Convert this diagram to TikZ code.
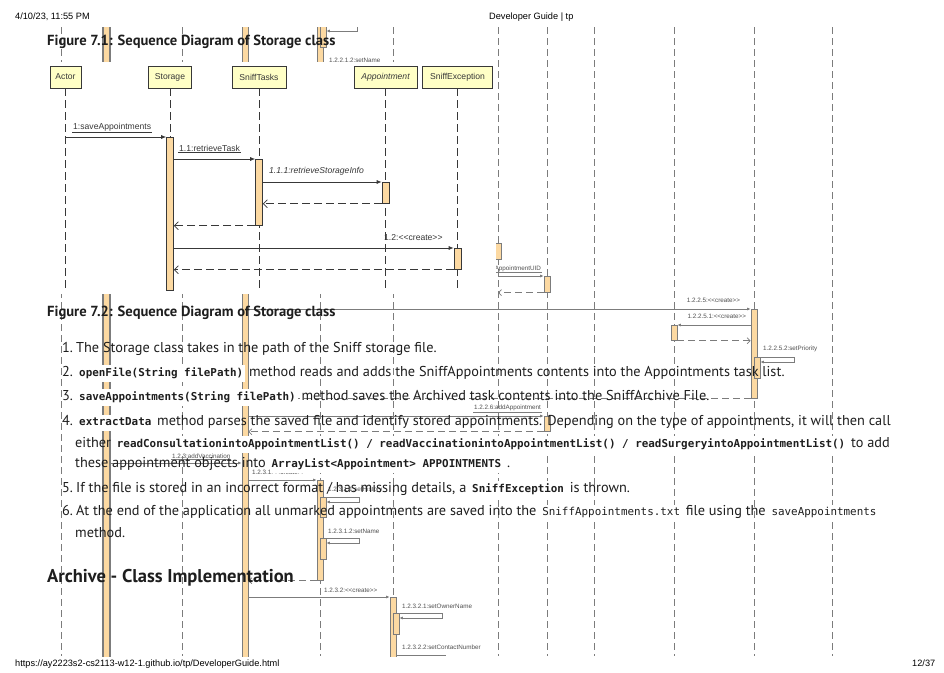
\documentclass[tikz,border=0pt]{standalone}
\usepackage{fontspec}
\setmainfont{PT Sans}
\newfontfamily\diafont{Liberation Sans}
\newfontfamily\mymono{DejaVu Sans Mono}
\usetikzlibrary{arrows.meta,calc}
\definecolor{actfill}{HTML}{FCD9A2}
\definecolor{boxfill}{HTML}{FFFFC6}
\definecolor{ovl}{HTML}{7C7C7C}
\definecolor{ovtext}{HTML}{505050}
\definecolor{dline}{HTML}{383838}
\definecolor{txt}{HTML}{1E1E1E}
\newcommand\cbx[1]{{\setlength\fboxsep{2pt}\colorbox{white}{\mymono\bfseries\fontsize{10.9}{12}\selectfont\strut #1}}}
\newcommand\cbr[1]{{\setlength\fboxsep{2pt}\colorbox{white}{\mymono\fontsize{10.9}{12}\selectfont\strut #1}}}
\newcommand\bodyfont{\fontsize{14.3}{16}\selectfont}
\newcommand\headfont{\bfseries\fontsize{14.6}{17}\selectfont}
\begin{document}
\begin{tikzpicture}[x=1pt,y=-1pt,
  objbox/.style={draw=dline, fill=boxfill, line width=0.8pt, minimum height=22pt, inner sep=0pt, font=\diafont\fontsize{8.6}{10}\selectfont, text=dline},
  lifeln/.style={draw=dline, dash pattern=on 8pt off 4pt, line width=0.8pt},
  actbar/.style={draw=dline, fill=actfill, minimum width=7pt, inner sep=0pt, anchor=north, line width=0.7pt},
  callmsg/.style={draw=dline, line width=0.7pt, -{Latex[length=5pt,width=4pt]}},
  retmsg/.style={draw=dline, line width=0.7pt, dash pattern=on 8pt off 4pt, -{Straight Barb[length=4pt,width=8pt]}},
  mlbl/.style={font=\diafont\fontsize{8.6}{10}\selectfont, text=dline, inner sep=1pt, anchor=west},
  ovlife/.style={draw=ovl, dash pattern=on 7pt off 4pt, line width=0.9pt},
  ovbar/.style={draw=ovl, fill=actfill, minimum width=6pt, inner sep=0pt, anchor=north, line width=0.7pt},
  ovcall/.style={draw=ovl, line width=0.7pt, -{Latex[length=3.5pt,width=3pt]}},
  ovret/.style={draw=ovl, line width=0.7pt, dash pattern=on 7pt off 4pt, -{Straight Barb[length=3pt,width=6pt]}},
  ovlbl/.style={font=\diafont\fontsize{6.3}{7}\selectfont, text=ovtext, inner sep=0.8pt},
  ovul/.style={draw=ovl, line width=0.6pt},
  body/.style={anchor=base west, inner sep=0pt, text=txt, font=\bodyfont},
  head/.style={anchor=base west, inner sep=0pt, text=txt, font=\headfont},
  pghead/.style={font=\diafont\fontsize{9.2}{10}\selectfont, inner sep=0pt, anchor=base west, text=black}
]
\useasboundingbox (0,0) rectangle (944,672);
\fill[white] (0,0) rectangle (944,672);

% ---------- overlaid diagram (Figure 7.2, printed underneath) ----------
\begin{scope}
\clip (0,27) rectangle (944,656);
\foreach \x/\n in {61/a,182/b,320/c,393/d,498/e,547/f,594/g,674/h,754/i,832/j}{
  \coordinate (ot\n) at (\x,27);
  \coordinate (ob\n) at (\x,656);
  \draw[ovlife] (ot\n) -- (ob\n);
}
\node[ovbar, minimum width=7pt, minimum height=640pt, line width=1.1pt] (oA) at (106.5,20) {};
\node[ovbar, minimum height=640pt] (oB) at (245,20) {};
% top fragment
\node[ovbar, minimum height=42pt] (oc0) at (320,20) {};
\node[ovbar, minimum height=27pt] (oc1) at (323,20) {};
\coordinate (sc0) at (357,20);
\draw[ovcall] (sc0) |- (oc1.east |- 0,31);
\node[ovlbl, anchor=west] at (328,60.5) {1.2.2.1.2:setName};
% appointment UID
\node[ovbar, minimum height=16pt] (oe1) at (498,243) {};
\node[ovlbl, anchor=east] (lUID) at (542,268.5) {1.2.2.4:setAppointmentUID};
\draw[ovul] (lUID.south west) -- (lUID.south east);
\node[ovbar, minimum height=16pt] (of1) at (547,276) {};
\draw[ovcall] (ote |- of1.north) -- (of1.north west);
\draw[ovret] (of1.south west) -- (ote |- of1.south);
% 1.2.2.5 create
\node[ovbar, minimum height=89pt] (oi1) at (754,309) {};
\draw[ovcall] (oB.east |- oi1.north) -- (oi1.north west);
\node[ovlbl, anchor=east] at (741,300) {1.2.2.5:<{}<create>{}>};
\node[ovbar, minimum height=15pt] (oh1) at (674,325) {};
\draw[ovcall] (oi1.west |- oh1.north) -- (oh1.north east);
\node[ovlbl, anchor=east] at (747,316) {1.2.2.5.1:<{}<create>{}>};
\draw[ovret] (oh1.south east) -- (oi1.west |- oh1.south);
\node[ovbar, minimum height=21pt] (oi2) at (757,357) {};
\draw[ovcall] (oi2.north east) -- ++(34,0) |- ($(oi2.north east)+(0,5)$);
\node[ovlbl, anchor=west] at (762,349) {1.2.2.5.2:setPriority};
\draw[ovret] (oi1.south west) -- (oB.east |- oi1.south);
% 1.2.2.6 addAppointment
\node[ovlbl, anchor=east] (lAdd) at (542,408) {1.2.2.6:addAppointment};
\draw[ovul] (lAdd.south west) -- (lAdd.south east);
\node[ovbar, minimum height=15pt] (of2) at (547,416) {};
\draw[ovcall] (oB.east |- of2.north) -- (of2.north west);
\draw[ovret] (of2.south west) -- (oB.east |- of2.south);
% 1.2.3 addVaccination
\node[ovlbl, anchor=west] (lVac) at (171,456) {1.2.3:addVaccination};
\draw[ovul] (lVac.south west) -- (lVac.south east);
\coordinate (m123) at (0,463);
\draw[ovcall] (oA.east |- m123) -- (oB.west |- m123);
\node[ovlbl, anchor=west] at (251,472) {1.2.3.1:<{}<create>{}>};
\node[ovbar, minimum height=100pt] (oc2) at (320,480) {};
\draw[ovcall] (oB.east |- oc2.north) -- (oc2.north west);
\node[ovlbl, anchor=west] at (327,490) {1.2.3.1.1:setHistory};
\node[ovbar, minimum height=20pt] (oc3) at (323,497) {};
\draw[ovcall] (oc3.north east) -- ++(33,0) |- ($(oc3.north east)+(0,5)$);
\node[ovlbl, anchor=west] at (327,531) {1.2.3.1.2:setName};
\node[ovbar, minimum height=21pt] (oc4) at (323,538) {};
\draw[ovcall] (oc4.north east) -- ++(33,0) |- ($(oc4.north east)+(0,5)$);
\draw[ovret] (oc2.south west) -- (oB.east |- oc2.south);
\node[ovlbl, anchor=west] at (323,590) {1.2.3.2:<{}<create>{}>};
\node[ovbar, minimum height=70pt] (od1) at (393,597) {};
\draw[ovcall] (oB.east |- od1.north) -- (od1.north west);
\node[ovlbl, anchor=west] at (401,606) {1.2.3.2.1:setOwnerName};
\node[ovbar, minimum height=21pt] (od2) at (396,613) {};
\draw[ovcall] (od2.north east) -- ++(43,0) |- ($(od2.north east)+(0,5)$);
\node[ovlbl, anchor=west] at (401,647) {1.2.3.2.2:setContactNumber};
\draw[ovl, line width=0.7pt] (od1.east |- 0,655) -- ++(50,0);
\end{scope}

% ---------- Figure 7.1 image ----------
\fill[white] (44,62) rectangle (496,294);
\node[objbox, minimum width=31pt] (actor) at (65.5,77) {Actor};
\node[objbox, minimum width=43pt] (storage) at (170,77) {Storage};
\node[objbox, minimum width=54pt] (tasks) at (259,77) {SniffTasks};
\node[objbox, minimum width=63pt, font=\diafont\itshape\fontsize{8.6}{10}\selectfont] (appt) at (385.5,77) {Appointment};
\node[objbox, minimum width=70pt] (sexc) at (457.5,77) {SniffException};
\coordinate (dbot) at (0,290);
\foreach \n in {actor,storage,tasks,appt,sexc}{
  \draw[lifeln] (\n.south) -- (\n.south |- dbot);
}
\node[actbar, minimum height=153pt] (aSt) at (170,137) {};
\node[actbar, minimum height=66pt] (aTk) at (259,159) {};
\node[actbar, minimum height=21pt] (aAp) at (385.5,182) {};
\node[actbar, minimum height=21pt] (aEx) at (457.5,248) {};
\draw[callmsg] (actor.south |- aSt.north) -- (aSt.north west);
\node[mlbl] (l1) at (72,127) {1:saveAppointments};
\draw[dline, line width=0.6pt] (l1.south west) -- (l1.south east);
\draw[callmsg] (aSt.east |- aTk.north) -- (aTk.north west);
\node[mlbl] (l2) at (178,148) {1.1:retrieveTask};
\draw[dline, line width=0.6pt] (l2.south west) -- (l2.south east);
\draw[callmsg] (aTk.east |- aAp.north) -- (aAp.north west);
\node[mlbl, font=\diafont\itshape\fontsize{8.6}{10}\selectfont] at (268,171) {1.1.1:retrieveStorageInfo};
\draw[retmsg] (aAp.south west) -- (aTk.east |- aAp.south);
\draw[retmsg] (aTk.south west) -- (aSt.east |- aTk.south);
\draw[callmsg] (aSt.east |- aEx.north) -- (aEx.north west);
\node[mlbl] at (383,238) {1.2:<{}<create>{}>};
\draw[retmsg] (aEx.south west) -- (aSt.east |- aEx.south);

% ---------- page text ----------
\node[pghead] at (15,19) {4/10/23, 11:55 PM};
\node[pghead] at (489,19) {Developer Guide | tp};
\node[pghead] at (15,666) {https://ay2223s2-cs2113-w12-1.github.io/tp/DeveloperGuide.html};
\node[pghead] at (912,666) {12/37};

\node[head] at (47,45) {Figure 7.1: Sequence Diagram of Storage class};
\node[head] at (47,316) {Figure 7.2: Sequence Diagram of Storage class};
\node[head, font=\bfseries\fontsize{18.5}{21}\selectfont] at (47,582) {Archive - Class Implementation};

\node[body] at (62,352) {1.};
\node[body] at (76,352) {The Storage class takes in the path of the Sniff storage file.};
\node[body] at (62,376) {2.};
\node[body] at (77,376) {\cbx{openFile(String filePath)} method reads and adds the SniffAppointments contents into the Appointments task list.};
\node[body] at (62,400) {3.};
\node[body] at (77,400) {\cbx{saveAppointments(String filePath)} method saves the Archived task contents into the SniffArchive File.};
\node[body] at (62,425) {4.};
\node[body] at (77,425) {\cbx{extractData} method parses the saved file and identify stored appointments. Depending on the type of appointments, it will then call};
\node[body] at (75,447) {either \cbx{readConsultationintoAppointmentList() / readVaccinationintoAppointmentList() / readSurgeryintoAppointmentList()} to add};
\node[body] at (75,467) {these appointment objects into \cbx{ArrayList<Appointment> APPOINTMENTS} .};
\node[body] at (62,492) {5.};
\node[body] at (76,492) {If the file is stored in an incorrect format / has missing details, a \cbx{SniffException} is thrown.};
\node[body] at (62,515) {6.};
\node[body] at (76,515) {At the end of the application all unmarked appointments are saved into the \cbr{SniffAppointments.txt} file using the \cbr{saveAppointments}};
\node[body] at (75,537) {method.};
\end{tikzpicture}
\end{document}
